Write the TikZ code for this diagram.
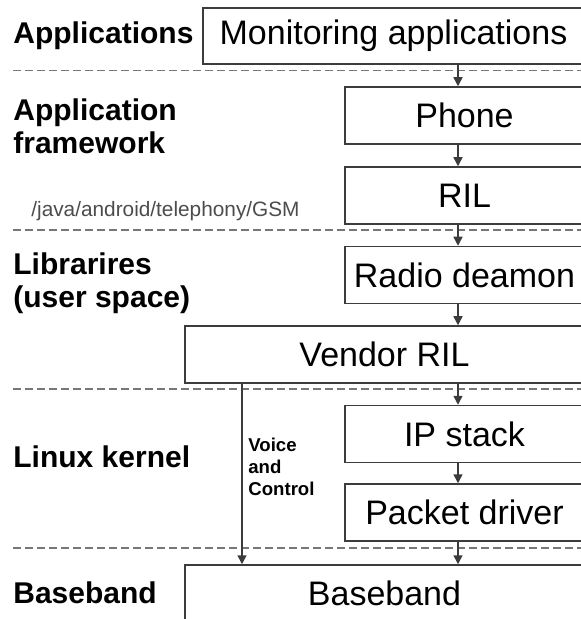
\documentclass[tikz,border=0pt]{standalone}
\usepackage{fontspec}
\setmainfont{Liberation Sans}
\usetikzlibrary{arrows.meta}

\definecolor{edge}{HTML}{3C3C3C}
\definecolor{dashgray}{HTML}{777777}

\begin{document}
\begin{tikzpicture}[
    x=0.5pt, y=-0.5pt,
    box/.style={draw=edge, line width=0.75pt, align=center, inner sep=0pt, font=\fontsize{17}{20}\selectfont, minimum height=28.5pt},
    small/.style={box, minimum width=119.5pt},
    wide/.style={box, minimum width=199.5pt},
    layer/.style={font=\bfseries\fontsize{15}{16.5}\selectfont, align=left, anchor=west, inner sep=0pt},
    sep/.style={dashgray, line width=0.6pt, dash pattern=on 4pt off 2pt},
    arrow/.style={-{Triangle[length=4.5pt, width=4.5pt]}, edge, line width=0.75pt}
  ]
    \useasboundingbox (0,0) rectangle (581,619);
    % layer separators
    \foreach \y in {70.5,230,389,548}
      \draw[sep] (13,\y) -- (581,\y);
    % boxes
    \node[box, minimum width=190.5pt, minimum height=28pt] (mon) at (393.5,36) {Monitoring applications};
    \node[small] (phone) at (464.5,115.5) {Phone};
    \node[small] (ril) at (464.5,195.5) {RIL};
    \node[small] (radio) at (464.5,275) {Radio deamon};
    \node[wide] (vendor) at (384.5,354.5) {Vendor RIL};
    \node[small] (ip) at (464.5,434) {IP stack};
    \node[small] (packet) at (464.5,512.5) {Packet driver};
    \node[wide, minimum height=35pt] (base) at (384.5,600) {};
    \node[font=\fontsize{17}{20}\selectfont, inner sep=0pt] (basetxt) at (384.5,593) {Baseband};
    % layer names
    \node[layer] (lapp) at (13,36) {Applications};
    \node[layer] (lfw) at (13,126) {Application\\framework};
    \node[layer] (llib) at (13,283) {Librarires\\(user space)};
    \node[layer] (lkern) at (13,457) {Linux kernel};
    \node[layer] (lbase) at (13,593) {Baseband};
    \node[anchor=east, inner sep=0pt, text=black!70, font=\fontsize{10.4}{12}\selectfont] (path) at (300,211) {/java/android/telephony/GSM};
    % main path
    \coordinate (axis) at (458,0);
    \foreach \a/\b in {mon/phone,phone/ril,ril/radio,radio/vendor,vendor/ip,ip/packet,packet/base}
      \draw[arrow] (\a.south -| axis) -- (\b.north -| axis);
    % voice and control
    \coordinate (vc) at (242,0);
    \draw[arrow] (vendor.south -| vc) -- (base.north -| vc);
    \node[anchor=north west, inner sep=0pt, align=left, font=\bfseries\fontsize{9.3}{10.8}\selectfont] (voice) at (248,438) {Voice\\and\\Control};
  \end{tikzpicture}
\end{document}
